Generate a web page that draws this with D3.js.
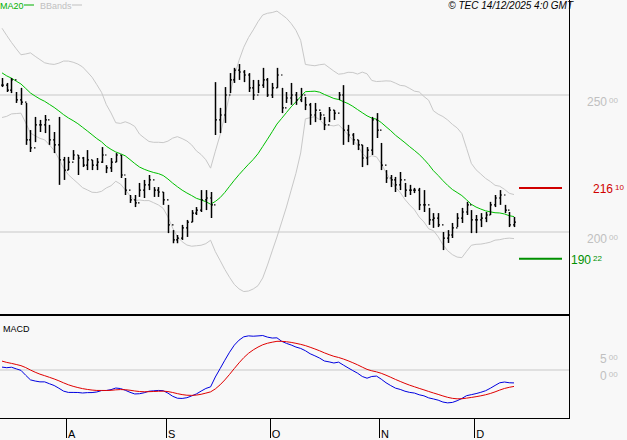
<!DOCTYPE html>
<html><head><meta charset="utf-8">
<script src="https://cdn.jsdelivr.net/npm/d3@7"></script>
<style>
body{margin:0;background:#f8f8f8;}
text{font-family:"Liberation Sans",Arial,sans-serif;}
</style></head>
<body><svg id="c" width="627" height="440"></svg>
<script>
// closes before the visible window (needed for MA20 / BBands / MACD)
var preCloses = [215,216,218,220,222,224,226,228,230,233,236,240,244,248,252,256,260,264,268,272,
  275,274,272,270,268,266,264,262,260,258,256,254,252,250,249,248,249,251,253,252];
// visible bars: high, low, close
var highs = [256.2,254.4,256.2,251.1,252.6,247.1,237.2,242.0,240.9,242.7,239.1,236.5,242.0,227.4,227.4,229.9,228.1,227.4,229.9,226.3,
  227.0,231.0,224.4,227.0,228.8,228.1,219.7,213.5,213.5,217.9,219.0,220.8,216.4,216.4,214.6,209.9,200.7,198.9,202.6,204.4,
  208.0,209.1,215.3,215.3,214.6,254.7,245.3,252.9,258.0,259.9,261.3,259.1,258.0,255.5,255.5,259.9,256.2,254.4,259.9,252.6,
  251.1,254.4,251.1,252.6,249.3,247.1,247.1,243.8,242.0,245.6,244.5,251.1,253.6,239.1,236.1,233.6,231.8,231.0,242.0,243.4,
  232.5,222.6,220.8,220.1,221.9,217.9,217.2,216.1,216.1,215.3,208.8,206.9,206.9,200.0,200.7,203.3,206.9,208.8,211.0,208.0,
  206.2,206.9,207.3,211.0,213.5,215.3,209.9,207.3,205.5];
var lows = [252.9,251.1,250.7,247.1,246.4,231.8,229.2,232.8,236.5,236.1,231.8,228.8,217.2,219.0,222.6,226.3,220.8,223.7,222.6,222.6,
  222.6,225.2,221.5,221.9,225.5,219.7,213.5,210.6,209.1,212.8,212.4,215.3,212.8,212.8,209.9,199.6,195.9,195.9,197.1,198.2,
  203.6,206.2,207.3,208.0,205.1,235.4,236.1,239.8,250.7,254.4,255.5,254.7,251.1,248.2,250.7,252.6,249.3,248.9,252.6,243.4,
  247.1,246.4,246.4,247.4,244.5,239.1,240.1,240.9,237.2,240.1,240.9,248.2,231.8,232.8,231.8,229.9,223.7,224.4,228.1,234.3,
  222.6,217.9,216.4,214.6,215.3,212.8,213.5,214.2,208.0,207.3,202.6,201.5,201.8,193.4,196.0,197.8,201.8,203.3,206.2,199.6,
  199.6,201.8,203.6,206.2,209.1,209.9,206.9,201.8,201.8];
var closes = [253.6,251.8,255.5,248.2,247.4,233.6,230.7,239.1,239.1,240.9,233.6,231.8,226.3,222.6,225.5,228.1,227.0,224.4,226.3,224.4,
  225.5,228.1,223.4,225.5,228.1,220.8,215.3,211.7,210.6,215.3,217.2,219.0,215.3,214.6,211.7,202.6,197.1,197.8,201.5,203.6,
  206.9,208.0,211.7,212.4,209.9,240.9,242.7,250.0,255.5,259.1,258.4,257.3,252.6,250.0,253.6,255.5,250.0,252.6,257.3,245.3,
  248.9,250.0,248.2,250.0,246.4,242.7,244.5,242.7,239.1,244.5,243.4,250.0,237.2,235.4,233.6,231.8,227.0,229.9,240.9,237.2,
  224.4,219.7,219.0,217.2,219.0,215.3,215.3,215.3,209.9,209.9,204.4,205.1,202.6,197.8,198.9,201.5,205.1,207.3,209.9,204.4,
  204.4,205.1,206.2,209.9,212.4,213.5,208.0,202.6,203.6];
var monthLabels = ['A','S','O','N','D'];
var monthIdx = [13.5,34.6,56.5,79.5,99.6];
var priceTicks = [200,250];
var macdTicks = [0,5];
var resistance = 216.10, support = 190.22;

var svg = d3.select('#c');
var W = 569, pBot = 315, mTop = 316, mBot = 418;
var n = closes.length;
var x = d3.scaleLinear().domain([0, n-1]).range([2, 514]);
var y = d3.scaleLinear().domain([200,250]).range([232,95]);
var ym = d3.scaleLinear().domain([0,5]).range([370,353]);

// indicators
var all = preCloses.concat(closes), off = preCloses.length;
var ma = [], up = [], lo = [];
for (var i=0;i<n;i++){
  var w = all.slice(off+i-19, off+i+1), m = d3.mean(w), s = d3.deviation(w)*Math.sqrt(19/20);
  ma.push(m); up.push(m+2*s); lo.push(m-2*s);
}
function ema(arr, p){ var k=2/(p+1), out=[arr[0]]; for(var i=1;i<arr.length;i++) out.push(arr[i]*k+out[i-1]*(1-k)); return out; }
var e12 = ema(all,12), e26 = ema(all,26);
var macdAll = e12.map(function(v,i){return v-e26[i];});
var sigAll = ema(macdAll,9);
var macd = macdAll.slice(off), sig = sigAll.slice(off);

svg.append('clipPath').attr('id','cp').append('rect').attr('x',0).attr('y',0).attr('width',W).attr('height',pBot);
svg.append('clipPath').attr('id','cm').append('rect').attr('x',0).attr('y',mTop).attr('width',W).attr('height',mBot-mTop);

// grid
svg.selectAll('.pg').data(priceTicks).enter().append('line')
  .attr('x1',0).attr('x2',W).attr('y1',d=>y(d)).attr('y2',d=>y(d)).attr('stroke','#c8c8c8');
svg.append('line').attr('x1',0).attr('x2',W).attr('y1',ym(0)).attr('y2',ym(0)).attr('stroke','#c8c8c8');

var gp = svg.append('g').attr('clip-path','url(#cp)');
var line = d3.line().x((d,i)=>x(i)).y(d=>y(d));
[up,lo].forEach(function(b){ gp.append('path').attr('d',line(b)).attr('fill','none').attr('stroke','#c8c8c8'); });
gp.append('path').attr('d',line(ma)).attr('fill','none').attr('stroke','#00c000');

// OHLC bars
var bars = gp.selectAll('.b').data(closes).enter().append('g');
bars.append('line').attr('x1',(d,i)=>Math.round(x(i))+0.5).attr('x2',(d,i)=>Math.round(x(i))+0.5)
  .attr('y1',(d,i)=>y(highs[i])).attr('y2',(d,i)=>y(lows[i])).attr('stroke','#000').attr('stroke-width',1.5);
bars.append('line').attr('x1',(d,i)=>Math.round(x(i))-1).attr('x2',(d,i)=>Math.round(x(i))+0.5)
  .attr('y1',(d,i)=>y(i?closes[i-1]:d)).attr('y2',(d,i)=>y(i?closes[i-1]:d)).attr('stroke','#000').attr('stroke-width',1.2);
bars.append('line').attr('x1',(d,i)=>Math.round(x(i))+0.5).attr('x2',(d,i)=>Math.round(x(i))+2)
  .attr('y1',d=>y(d)).attr('y2',d=>y(d)).attr('stroke','#000').attr('stroke-width',1.2);

// support / resistance
svg.append('line').attr('x1',519).attr('x2',562).attr('y1',y(resistance)).attr('y2',y(resistance)).attr('stroke','#d00000').attr('stroke-width',2);
svg.append('line').attr('x1',519).attr('x2',562).attr('y1',y(support)).attr('y2',y(support)).attr('stroke','#009000').attr('stroke-width',2);
function lab(xp, yp, v, col){
  var p = v.toFixed(2).split('.');
  var t = svg.append('text').attr('x',xp).attr('y',yp).attr('fill',col).attr('font-size',12);
  t.append('tspan').text(p[0]);
  t.append('tspan').attr('font-size',8).attr('dx',2).attr('dy',-3).text(p[1]);
}
lab(593, y(resistance)+5, resistance, '#d00000');
lab(571, y(support)+5, support, '#009000');
priceTicks.forEach(function(v){ lab(587, y(v)+11, v, '#c0c0c0'); });
macdTicks.forEach(function(v){ lab(600, ym(v)+10, v, '#c0c0c0'); });

// MACD
var gm = svg.append('g').attr('clip-path','url(#cm)');
var ml = d3.line().x((d,i)=>x(i)).y(d=>ym(d));
gm.append('path').attr('d',ml(macd)).attr('fill','none').attr('stroke','#0000e0');
gm.append('path').attr('d',ml(sig)).attr('fill','none').attr('stroke','#e00000');
svg.append('text').attr('x',3).attr('y',332).attr('font-size',9).attr('fill','#000').text('MACD');

// frame
svg.append('line').attr('x1',W+0.5).attr('x2',W+0.5).attr('y1',0).attr('y2',mBot).attr('stroke','#000');
svg.append('line').attr('x1',0).attr('x2',W+1).attr('y1',pBot).attr('y2',pBot).attr('stroke','#000').attr('stroke-width',2);
svg.append('line').attr('x1',0).attr('x2',W+1).attr('y1',mBot+0.5).attr('y2',mBot+0.5).attr('stroke','#000');

// month axis
var ga = svg.selectAll('.m').data(monthIdx).enter().append('g');
ga.append('line').attr('x1',d=>Math.round(x(d))+0.5).attr('x2',d=>Math.round(x(d))+0.5).attr('y1',mBot).attr('y2',438).attr('stroke','#000');
ga.append('text').attr('x',d=>x(d)+2).attr('y',438).attr('font-size',11).text((d,i)=>monthLabels[i]);

// legend / credit
svg.append('text').attr('x',0).attr('y',9).attr('font-size',9).attr('fill','#00b000').text('MA20');
svg.append('line').attr('x1',24).attr('x2',34).attr('y1',5).attr('y2',5).attr('stroke','#00b000');
svg.append('text').attr('x',40).attr('y',9).attr('font-size',9).attr('fill','#c0c0c0').text('BBands');
svg.append('line').attr('x1',72).attr('x2',82).attr('y1',5).attr('y2',5).attr('stroke','#c0c0c0');
svg.append('text').attr('x',573).attr('y',9).attr('font-size',10).attr('font-style','italic').attr('text-anchor','end').text('© TEC 14/12/2025 4:0 GMT');
</script></body></html>
